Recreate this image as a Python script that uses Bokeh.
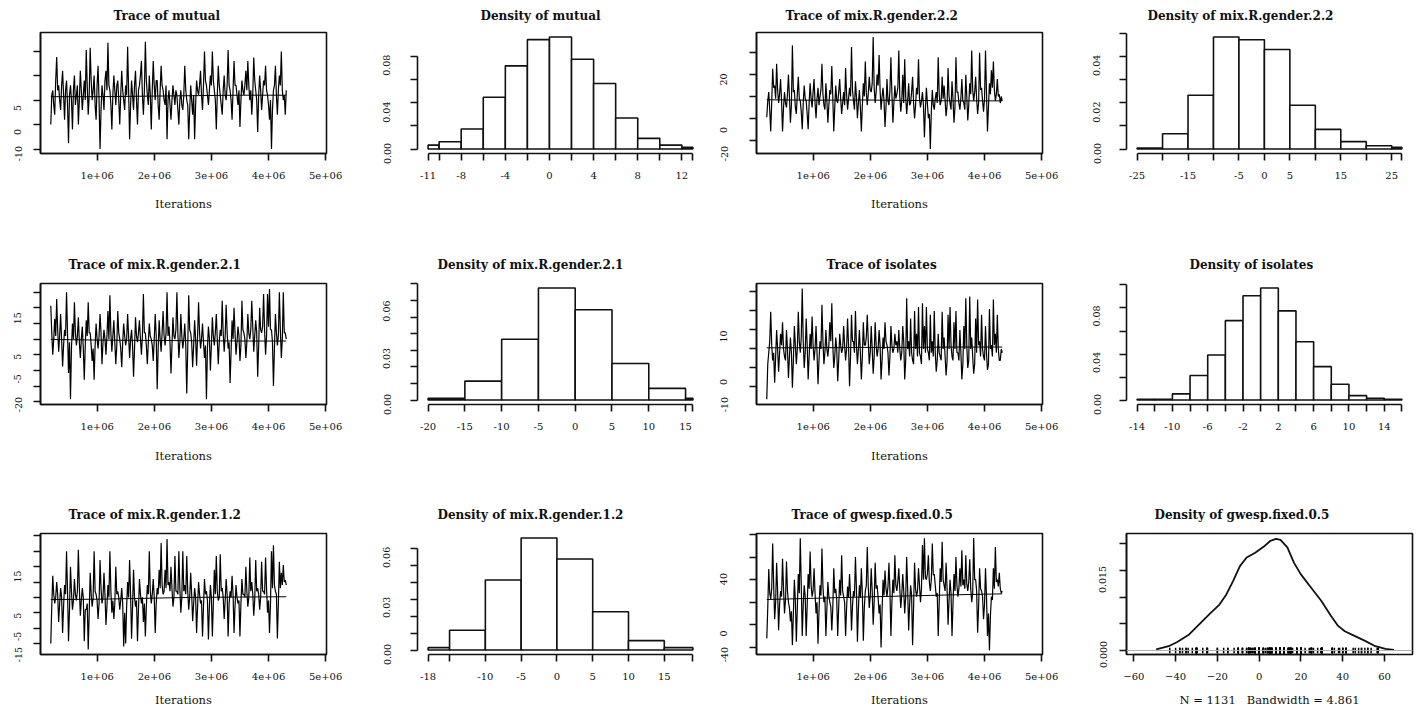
import numpy as np
from bokeh.plotting import figure
from bokeh.layouts import column, row
from bokeh.models import Range1d, FixedTicker, Span, Title, LinearAxis
from bokeh.embed import file_html
from bokeh.resources import INLINE

# ============================ DATA ============================
ITER_FIRST = 185000
ITER_LAST = 4310000
TRACE_XTICKS = [1000000, 2000000, 3000000, 4000000, 5000000]
TRACE_XTICK_LABELS = ["1e+06", "2e+06", "3e+06", "4e+06", "5e+06"]

# --- mutual ---
mutual_trace = [
    -5, 1, 2, -1, -3, 4, 8.8, 2, 3, 0, -2, 3, 6, 1, -4, 2, 4, -1, -8.8, 1,
    3, 0, -6, 2, 5, -1, 1, 3, -5, 0, 6, 2, -2, 1, 4, 0, 10.2, 3, -3, 1,
    10.7, 4, 0, 2, 5, -1, -4, 3, 7, 0, -10, -2, 3, 1, -2, 4, 6, 2, 11.7, 3,
    2, -1, -6, 1, 5, 2, -1, 3, 4, 0, -5, 1, 6, 2, 0, -2, 3, 1, 10.9, 2,
    -8, -1, 4, 1, -2, 3, 6, 0, -5, 2, 3, 5, 8, 1, -3, 2, 11.9, 4, 1, -1,
    5, 1, -6, 2, 8, 3, 0, 4, 4, -1, -4, 2, 7, 3, 2, 0, -1, 3, -8, 0,
    2, -1, -4, 0, 3, 1, -1, 2, 1, -2, -5, 0, 2, -1, -2, 1, 7, 2, 0, -1,
    -8, -2, 3, 0, -3, 1, -8, -1, 4, 2, 1, 3, 6, 1, -2, 3, 9.9, 4, 3, 1,
    -1, 2, 5, 3, 9.9, 4, 2, 0, -6, 1, 7, 3, 1, -1, -3, 2, 5, 1, 0, 3,
    10.2, 3, 2, 0, -4, 2, 8, 3, 3, 1, -1, 2, -5.5, 0, 4, 2, 1, 3, 6, 2,
    8, 3, 0, 2, -3, 1, 8.7, 4, 2, 0, -6.5, 1, 5, 2, -2, 1, 4, 3, 7, 2,
    1, -1, -4, 0, -10, -2, 2, 3, 7, 1, -3, 2, 5, 3, 9.9, 2, 0, 1, -3, 2]
mutual_smooth = [0.7, 0.7, 0.8, 0.9, 1.0, 1.0]
mutual_yticks = [-10, -5, 0, 5, 10]
mutual_ylabels = ["5", "0", "-10"]
mutual_breaks = [-11, -10, -8, -6, -4, -2, 0, 2, 4, 6, 8, 10, 12, 13]
mutual_density = [0.0034, 0.0063, 0.0172, 0.0447, 0.0717, 0.0943, 0.0966,
                  0.0774, 0.0565, 0.0267, 0.0092, 0.0034, 0.0014]
mutual_xlabeled = [-11, -8, -4, 0, 4, 8, 12]
mutual_dticks = [0, 0.02, 0.04, 0.06, 0.08]
mutual_dlabels = ["0.08", "0.04", "0.00"]

# --- mix.R.gender.2.2 ---
g22_trace = [
    -9.5, -2, 2, -6, -16, -3, 12.7, 4, 5, -1, 15, 3, -3, 1, 8, -2, -16, -5, 2, -3,
    -5, 1, 10, 0, -12, -4, 23.4, 2, 3, -5, -8, 1, 9, -1, -2, -7, -15, -3, 5, -1,
    -2, -8, -15, -3, 6, -1, -5, 2, 8, -3, -10, -1, 4, -4, 0, 3, 15, 1, -4, -6,
    6, -2, -12, -4, 3, 1, 14, 0, -16, -5, 5, -2, -3, 2, 8, -1, -8, -3, 2, -4,
    13, 1, -6, -1, 4, 0, 22.6, 3, -2, -6, 7, 0, -10, -3, 3, -5, -16, -4, 6, 0,
    16, 2, -4, 1, 9, 3, 2, 6, 27.2, 4, -3, 2, 10, 5, 19, 3, -6, 0, 4, -2,
    -14, -5, 8, -2, -4, 3, 18, 1, -12, -3, 5, -1, 1, 4, 21, 0, -7, -2, 10, -3,
    17, 0, -8, -2, 6, -4, -3, 2, 9, -3, -10, -4, 4, 1, 17, -1, -5, -2, 2, -4,
    -18.6, -6, 4, -3, -10, -8, -24, -7, 3, -4, -6, -1, 2, -3, 18, 1, -4, -2, 9, -1,
    5, -2, -9, -4, 13, 0, -3, -6, 7, -1, -12, -5, 18, 2, 2, -3, -6, -1, 8, -2,
    -3, -6, 10, 0, -11, -4, 6, 1, 21, 3, -2, 2, 9, -1, -8, -3, 20, 3, 4, -2,
    -7, -1, 21, 2, -16, -5, 6, 1, 12, 4, 16, 3, -2, 1, 8, 0, 1, -3, 0, -2]
g22_smooth = [-1.5, -1.7, -1.6, -1.8, -2.0, -2.0]
g22_yticks = [-20, -10, 0, 10, 20]
g22_ylabels = ["20", "0", "-20"]
g22_breaks = [-25, -20, -15, -10, -5, 0, 5, 10, 15, 20, 25, 27]
g22_density = [0.0004, 0.0066, 0.0233, 0.0486, 0.0474, 0.0432, 0.0190,
               0.0085, 0.0032, 0.0014, 0.0007]
g22_xlabeled = [-25, -15, -5, 0, 5, 15, 25]
g22_dticks = [0, 0.01, 0.02, 0.03, 0.04, 0.05]
g22_dlabels = ["0.04", "0.02", "0.00"]

# --- mix.R.gender.2.1 ---
g21_trace = [
    10.7, 2, -5, 0, 6.5, 1, 12.8, 3, -4, 1, 8, 0, -8.7, -2, 3, 1, 15, 2, -10.8, -1,
    -19.2, -3, 5, 0, 11.8, 2, -2, 1, 7, -1, -6, 0, 4, -3, -13, -2, 6, 1, 11.8, 2,
    2, -2, -7, -3, -13, -2, 5, 0, -3, 1, 8, 2, -8, -1, 3, 0, -5, 1, 9, 0,
    14, 2, -4, 1, 6, -1, -8, -2, 9, 2, 0, -3, -9, -1, 5, 1, -2, 0, 8, 1,
    -6, 0, 3, -2, -12, -3, 7, 1, -1, 2, 6, 0, -5, 1, 14.4, 2, 2, -2, -8, -1,
    5, 1, 0, -2, -7, 0, 8, 1, -16, -3, 6, 0, -4, 2, 9, 1, -2, 2, 15, 1,
    4, -1, -11, -2, 7, 1, 0, 3, 15, 2, -6, -1, 8, 1, -3, 0, 5, -2, -17.4, -3,
    14, 3, 2, -1, -9, -2, 6, 0, -8.5, 1, 11.8, 2, -3, 0, 5, -1, -6, -2, -19.2, -3,
    4, 0, -10, -2, 7, 1, -2, 2, 8, 0, -8, -1, 3, 1, 12.3, 2, -4, 1, 11, 2,
    -3, -1, -14, -4, 6, 0, 10, 2, -5, -1, 4, 1, -7, -2, 12.3, 3, 2, 0, -6, -1,
    8, 2, 0, 3, 12.3, 4, -4, 1, 6, 2, -12, -2, 10, 3, 2, 4, 14.4, 3, -5, 1,
    14.4, 4, 16, 3, 3, -1, -15, -3, 8, 2, -2, 1, 15, 3, -6, 0, 15, 2, 2, 0]
g21_smooth = [-0.1, -0.3, -0.4, -0.5, -0.6, -0.6]
g21_yticks = [-20, -15, -10, -5, 0, 5, 10, 15]
g21_ylabels = ["15", "5", "-5", "-20"]
g21_breaks = [-20, -15, -10, -5, 0, 5, 10, 15, 16]
g21_density = [0.0010, 0.0114, 0.0366, 0.0675, 0.0544, 0.0220, 0.0070, 0.0010]
g21_xlabeled = [-20, -15, -10, -5, 0, 5, 10, 15]
g21_dticks = [0, 0.01, 0.02, 0.03, 0.04, 0.05, 0.06, 0.07]
g21_dlabels = ["0.06", "0.03", "0.00"]

# --- isolates ---
iso_trace = [
    -13.2, -4, -1, 2, 9.8, 1, -3, -1, -8.9, -2, 5, 0, -6, -1, 4, 1, 7, 0, -2, -3,
    5, 0, -7.6, -2, 3, -1, -10.2, -3, 6, 1, -4, 0, 9.8, 2, -1, 3, 15.9, 2, -5, -1,
    8, 1, -8, -2, 4, 0, 8.5, 1, -3, 0, 6, -1, -9.3, -3, 2, 0, 11.6, 2, -4, -1,
    5, 0, -2, 1, 7, 2, 12, 1, -5, -2, 3, 0, -8.5, -3, 4, 1, -1, 0, 6, 1,
    -3, 0, 8, 1, -9.8, -2, 9, 2, 2, -1, 10, 1, -4, 0, 5, -1, -8, -2, 7, 1,
    1, 3, 9, 2, -4, -1, 6, 0, -6.5, -2, 7, 1, -2, 0, 5, 1, -8, -3, 3, 0,
    7, 2, 1, -1, -7, -2, 6, 1, -1, 0, 4, 1, 2, -1, 5, 0, -3, -1, 6, 2,
    -8, -3, 13.3, 0, 2, -2, 8, -1, -3, -4, 10, 0, 4, -2, 11, -1, -2, -4, 12, 0,
    6, -1, 11, 0, -1, -3, 9, -1, 2, -2, 10, -1, -6, -3, 4, -1, -2, -3, 9.8, 0,
    3, -2, -7, -3, 9, 0, 11, 1, -2, -3, 7, 0, 10, -1, -1, -3, 5, -1, -8, -4,
    6, 0, 13.3, 1, -5, -3, 13.8, 0, 3, -2, -6.5, -4, 8, -1, 13, 1, 2, -2, 9, 0,
    -2, -3, 6, -1, -5.5, -4, 10.5, 0, 1, -2, 13, 1, 4, -1, 9, 0, -3, -3, 0, -1]
iso_smooth = [0.3, 0.3, 0.4, 0.4, 0.5, 0.5]
iso_yticks = [-10, -5, 0, 5, 10, 15]
iso_ylabels = ["10", "0", "-10"]
iso_breaks = [-14, -12, -10, -8, -6, -4, -2, 0, 2, 4, 6, 8, 10, 12, 14, 16]
iso_density = [0.0006, 0.0006, 0.0053, 0.0213, 0.0392, 0.0690, 0.0906, 0.0974,
               0.0775, 0.0506, 0.0290, 0.0137, 0.0038, 0.0015, 0.0006]
iso_xlabeled = [-14, -10, -6, -2, 2, 6, 10, 14]
iso_dticks = [0, 0.02, 0.04, 0.06, 0.08, 0.10]
iso_dlabels = ["0.08", "0.04", "0.00"]

# --- mix.R.gender.1.2 ---
g12_trace = [
    -15, -3, 7, 1, -2, 0, 5, 1, -8, -2, 3, 0, -11.6, -3, 4, 1, 15, 2, -14.3, -4,
    10, 2, -4, -1, 6, 1, -1, 2, 15.5, 3, -6, -1, 3, 0, -14.3, -4, -4, -2, -17, -5,
    8, 1, -3, 0, 15, 2, 1, -1, -7, -2, 12.2, 3, -2, 0, 8, 1, -9, -3, 4, 0,
    15, 2, -5, -1, -7, -2, 10, 1, 2, 0, -4, -1, 3, -2, -16, -5, -15, -3, 5, 0,
    12.2, 1, -13.5, -3, 9, 0, -3, -1, -14.3, -4, 6, 1, -2, 0, -8, -2, -12.7, -3, 4, 1,
    15, 2, -2, 1, 6, 0, -11.6, -2, 3, 1, 9, 3, 17.7, 4, 1, 2, 9, 3, 19, 4,
    5, 2, 10, 3, -3, 0, 13.5, 2, 2, 1, 15, 3, -5, 0, 15, 2, 4, 1, 13.5, 2,
    -4, 0, 8, 1, -7.8, -2, 3, 0, -11.6, -3, 5, 1, -2, -1, -12.7, -3, 6, 1, 2, -1,
    -13.7, -3, 4, 0, -12.7, -2, 9, 1, 13.5, 2, -1, 0, 14, 2, 3, 0, -7, -1, 6, 1,
    -12.7, -2, 2, 0, 7, 1, -11.6, -3, 4, 0, -2, -1, -12.7, -2, 6, 1, 1, 0, 10, 2,
    -3, 0, 13, 2, 5, 1, -6, -1, 12.2, 2, 3, 1, -4, 0, 11.6, 2, 2, 1, 13, 3,
    -5, -1, -11.6, -2, 15, 3, 17, 4, 2, 1, -13.4, -2, 11.6, 3, 8, 4, 10.5, 5, 5.6, 4]
g12_smooth = [-0.7, -0.6, -0.3, 0.0, 0.1, 0.2]
g12_yticks = [-15, -10, -5, 0, 5, 10, 15, 20]
g12_ylabels = ["15", "5", "-5", "-15"]
g12_breaks = [-18, -15, -10, -5, 0, 5, 10, 15, 19]
g12_density = [0.0014, 0.0116, 0.0412, 0.0659, 0.0535, 0.0225, 0.0055, 0.0014]
g12_xlabeled = [-18, -10, -5, 0, 5, 10, 15]
g12_dticks = [0, 0.01, 0.02, 0.03, 0.04, 0.05, 0.06]
g12_dlabels = ["0.06", "0.03", "0.00"]

# --- gwesp.fixed.0.5 ---
gw_trace = [
    -32, -5, 29.5, 8, 3, 12, 52, 15, -15, 0, 35, 10, -24.7, -2, 10, 5, 38.5, 12, -10, 2,
    36, 10, 0, -5, -17, -8, -38, -10, 20, 2, -35, -5, 25, 8, 56.6, 15, -30, -2, 15, 5,
    -30, -3, 25, 12, 45, 15, 5, 10, 30, 8, -10, 0, -36.7, -8, 15, 6, 47.6, 14, 0, 5,
    -30, -6, 18, 5, 0, -4, -25, -5, 30, 8, 12, 2, -30, -4, 20, 6, 41.6, 10, 5, 0,
    -30, -5, 14, 4, 25, 6, -25, -3, 10, 5, 40, 12, -35, -6, 15, 4, 30, 8, -34, -5,
    10, 15, 49, 14, -5, 5, 30, 10, -20, 0, 35, 12, 15, 4, -10, -2, -40, -8, 20, 6,
    28, 12, 5, 14, 35, 10, -30, 0, 20, 8, 41.6, 15, 10, 18, 30, 12, -5, 6, 25, 10,
    -10, 5, 40, 12, -25, -2, 15, 6, -38, -5, 35, 12, 5, 10, 30, 15, 0, 12, 50.6, 20,
    56.6, 22, 20, 25, 41.6, 18, 10, 20, 52, 24, 25, 15, 5, 8, -30, 0, 30, 18, 53.6, 20,
    15, 10, 35, 12, -20, 2, 20, 8, -30, -2, 25, 10, 40, 15, 5, 12, 30, 14, 46, 15,
    20, 12, 41.6, 16, 10, 18, 38, 12, 0, 8, 57, 20, 20, 10, -27, -4, 30, 12, 10, 5,
    -15, -2, 30, 5, -30, -10, -42.8, -12, 5, 2, 30, 12, 49, 18, 20, 14, 26, 12, 8, 10]
gw_smooth = [2.4, 3.5, 4.6, 5.6, 6.6, 7.4]
gw_yticks = [-40, -20, 0, 20, 40, 60]
gw_ylabels = ["40", "0", "-40"]
gw_dens_x = [-49.3, -43.3, -39.2, -33.5, -28.7, -23.8, -19.0, -15.7, -12.5, -9.2,
             -6.0, -1.9, 2.1, 5.3, 8.1, 10.2, 13.5, 16.7, 19.9, 24.8,
             29.7, 34.5, 37.8, 41.0, 45.9, 50.7, 55.6, 60.5, 64.5]
gw_dens_y = [0.0002, 0.0008, 0.0016, 0.0030, 0.0049, 0.0068, 0.0086, 0.0105, 0.0130, 0.0158,
             0.0174, 0.0183, 0.0194, 0.0205, 0.0209, 0.0207, 0.0193, 0.0164, 0.0143, 0.0118,
             0.0093, 0.0064, 0.0046, 0.0036, 0.0027, 0.0018, 0.0008, 0.0003, 0.0001]
gw_dxticks = [-60, -40, -20, 0, 20, 40, 60]
gw_dticks = [0, 0.005, 0.010, 0.015, 0.020]
gw_dlabels = ["0.015", "0.000"]
gw_caption = "N = 1131\u00a0\u00a0\u00a0Bandwidth = 4.861"

# ============================ LAYOUT / STYLE ============================
FONT = "DejaVu Serif"
INK = "#111111"
FRAME_W = 286
FRAME_H = 121
COL_W = [372, 340, 376, 326]
COL_MBL = [40, 45, 44, 38]
ROW_H = [247, 250, 212]
ROW_MBT = [32, 36, 36]
ROW_XLAB_STANDOFF = [15, 16, 10]
TITLE_STANDOFF = [15, 19, 19]
TRACE_XRANGE = (5000, 5015000)
LINE_W = 1.6
TICK_OUT = 7
YLAB_HALF = 5.7


def style_axis(ax):
    ax.axis_line_color = INK
    ax.axis_line_width = LINE_W
    ax.major_tick_line_color = INK
    ax.major_tick_line_width = LINE_W
    ax.major_tick_out = TICK_OUT
    ax.major_tick_in = 0
    ax.minor_tick_line_color = None
    ax.major_label_text_font = FONT
    ax.major_label_text_font_size = "10px"
    ax.major_label_text_color = INK
    ax.axis_label_text_font = FONT
    ax.axis_label_text_font_style = "normal"
    ax.axis_label_text_font_size = "11.5px"
    ax.axis_label_text_color = INK


def new_fig(ci, ri, xr, yr, box):
    p = figure(width=COL_W[ci], height=ROW_H[ri],
               x_range=Range1d(*xr), y_range=Range1d(*yr),
               output_backend="svg", toolbar_location=None,
               min_border_left=COL_MBL[ci],
               min_border_right=COL_W[ci] - COL_MBL[ci] - FRAME_W,
               min_border_top=ROW_MBT[ri],
               min_border_bottom=ROW_H[ri] - ROW_MBT[ri] - FRAME_H)
    p.xgrid.visible = False
    p.ygrid.visible = False
    p.outline_line_color = INK if box else None
    p.outline_line_width = LINE_W
    style_axis(p.xaxis[0])
    style_axis(p.yaxis[0])
    p.xaxis[0].major_label_standoff = 11
    p.xaxis[0].axis_label_standoff = ROW_XLAB_STANDOFF[ri]
    return p


def add_title(p, ri, text, dx):
    p.add_layout(Title(text=text, align="left", offset=dx, vertical_align="top",
                       standoff=TITLE_STANDOFF[ri],
                       text_font=FONT, text_font_size="12px", text_font_style="bold",
                       text_color=INK), "above")


def y_axes(p, ticks, texts, ys, dx, bounds=None):
    # tick marks (no text) on the main axis
    ax = p.yaxis[0]
    ax.ticker = FixedTicker(ticks=ticks)
    ax.major_label_overrides = {t: "" for t in ticks}
    ax.major_label_standoff = 0
    if bounds is not None:
        ax.bounds = bounds
    # the rotated tick-label texts, where the reference prints them
    # (a label cannot be drawn below the frame, so it is kept at the frame edge)
    lo = p.y_range.start
    ys = [max(y, lo) for y in ys]
    lab = LinearAxis(ticker=FixedTicker(ticks=ys),
                     major_label_overrides=dict(zip(ys, texts)))
    style_axis(lab)
    lab.axis_line_color = None
    lab.major_tick_line_color = None
    lab.major_tick_out = 0
    lab.major_label_orientation = "vertical"
    lab.major_label_text_font_size = "9.5px"
    lab.major_label_standoff = max(0, int(round(-dx - TICK_OUT - YLAB_HALF)))
    p.add_layout(lab, "left")


def trace_panel(ci, ri, title, values, smooth, yticks, ylabels, yrange, ylab_at, ylab_dx, title_dx):
    p = new_fig(ci, ri, TRACE_XRANGE, yrange, True)
    xs = np.linspace(ITER_FIRST, ITER_LAST, len(values))
    p.line(xs, values, line_color="black", line_width=1.2)
    xsm = np.linspace(ITER_FIRST, ITER_LAST, len(smooth))
    p.line(xsm, smooth, line_color="black", line_width=1)
    p.xaxis[0].ticker = FixedTicker(ticks=TRACE_XTICKS)
    p.xaxis[0].major_label_overrides = dict(zip(TRACE_XTICKS, TRACE_XTICK_LABELS))
    p.xaxis[0].axis_label = "Iterations"
    y_axes(p, yticks, ylabels, ylab_at, ylab_dx)
    add_title(p, ri, title, title_dx)
    return p


def hist_panel(ci, ri, title, breaks, dens, xlabeled, dticks, dlabels, ylab_at, ylab_dx, title_dx):
    w = breaks[-1] - breaks[0]
    ymax = max(dens)
    p = new_fig(ci, ri, (breaks[0] - 0.04 * w, breaks[-1] + 0.04 * w),
                (-0.04 * ymax, 1.04 * ymax), False)
    p.quad(left=breaks[:-1], right=breaks[1:], bottom=0, top=dens,
           fill_color="white", line_color=INK, line_width=LINE_W)
    p.xaxis[0].ticker = FixedTicker(ticks=breaks)
    p.xaxis[0].major_label_overrides = {b: (str(b) if b in xlabeled else "") for b in breaks}
    p.xaxis[0].bounds = (breaks[0], breaks[-1])
    y_axes(p, dticks, dlabels, ylab_at, ylab_dx, (dticks[0], dticks[-1]))
    add_title(p, ri, title, title_dx)
    return p


p1 = trace_panel(0, 0, "Trace of mutual", mutual_trace, mutual_smooth, mutual_yticks,
                 mutual_ylabels, (-10.9, 13.8), [-1.6, -6.5, -13.9], -25, 73)
p2 = hist_panel(1, 0, "Density of mutual", mutual_breaks, mutual_density, mutual_xlabeled,
                mutual_dticks, mutual_dlabels, [0.0723, 0.0318, -0.0095], -33, 63)
p3 = trace_panel(2, 0, "Trace of mix.R.gender.2.2", g22_trace, g22_smooth, g22_yticks,
                 g22_ylabels, (-26.1, 29.3), [7.8, -15.3, -27.0], -35, 29)
p4 = hist_panel(3, 0, "Density of mix.R.gender.2.2", g22_breaks, g22_density, g22_xlabeled,
                g22_dticks, g22_dlabels, [0.0363, 0.016, -0.0048], -32, 21)

p5 = trace_panel(0, 1, "Trace of mix.R.gender.2.1", g21_trace, g21_smooth, g21_yticks,
                 g21_ylabels, (-20.9, 17.8), [6.7, -5.6, -12.7, -25.6], -25, 28)
p6 = hist_panel(1, 1, "Density of mix.R.gender.2.1", g21_breaks, g21_density, g21_xlabeled,
                g21_dticks, g21_dlabels, [0.0536, 0.025, -0.006], -33, 20)
p7 = trace_panel(2, 1, "Trace of isolates", iso_trace, iso_smooth, iso_yticks,
                 iso_ylabels, (-14.6, 17.2), [3.3, -8.7, -15.4], -35, 70)
p8 = hist_panel(3, 1, "Density of isolates", iso_breaks, iso_density, iso_xlabeled,
                iso_dticks, iso_dlabels, [0.0731, 0.0327, -0.0088], -32, 63)

p9 = trace_panel(0, 2, "Trace of mix.R.gender.1.2", g12_trace, g12_smooth, g12_yticks,
                 g12_ylabels, (-18.6, 20.8), [6.8, -6.0, -12.7, -21.3], -25, 28)
p10 = hist_panel(1, 2, "Density of mix.R.gender.1.2", g12_breaks, g12_density, g12_xlabeled,
                 g12_dticks, g12_dlabels, [0.0545, 0.0251, -0.0063], -33, 20)
p11 = trace_panel(2, 2, "Trace of gwesp.fixed.0.5", gw_trace, gw_smooth, gw_yticks,
                  gw_ylabels, (-46.3, 60.9), [20.5, -27.7, -53.3], -35, 35)

# density of gwesp (kernel density + rug)
p12 = new_fig(3, 2, (-63.5, 73.4), (-0.00075, 0.0219), True)
p12.add_layout(Span(location=0, dimension="width", line_color="#b0b0b0", line_width=1))
p12.segment(x0=gw_trace, y0=-0.0005, x1=gw_trace, y1=0.0005, line_color="black", line_width=1.5)
p12.line(gw_dens_x, gw_dens_y, line_color=INK, line_width=1.8)
p12.xaxis[0].ticker = FixedTicker(ticks=gw_dxticks)
p12.xaxis[0].bounds = (gw_dxticks[0], gw_dxticks[-1])
p12.xaxis[0].axis_label = gw_caption
y_axes(p12, gw_dticks, gw_dlabels, [0.0133, -0.00075], -26)
add_title(p12, 2, "Density of gwesp.fixed.0.5", 28)

layout = column(row(p1, p2, p3, p4), row(p5, p6, p7, p8), row(p9, p10, p11, p12))

with open("out.html", "w") as f:
    f.write(file_html(layout, INLINE, "MCMC diagnostics"))
